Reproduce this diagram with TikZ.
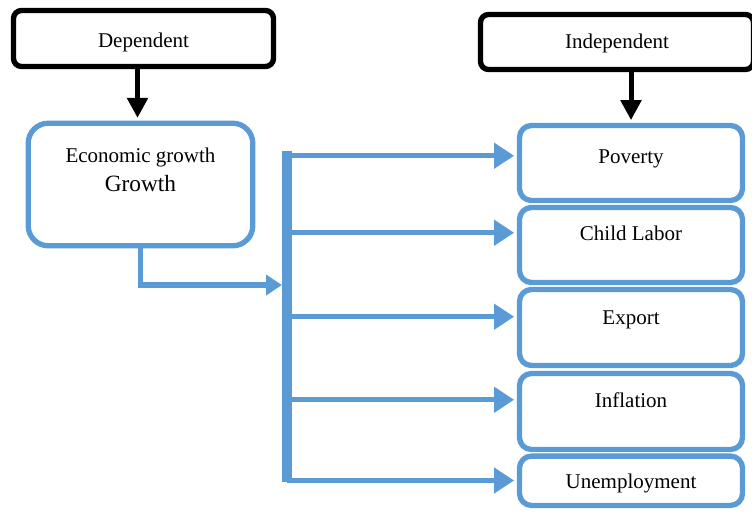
\documentclass[tikz,border=0pt]{standalone}
\usepackage{fontspec}
\setmainfont{Liberation Serif}
\usetikzlibrary{arrows.meta,positioning}

\definecolor{boxblue}{RGB}{91,155,213}
\newcommand{\pxl}{0.75pt}
\newcommand{\boxfont}{\fontsize{15.75}{21.75}\selectfont}

\tikzset{
  blackbox/.style={draw=black, line width=4pt, rounded corners=6pt, font=\boxfont, text depth=0pt},
  bluebox/.style={draw=boxblue, line width=4pt, rounded corners=9pt,
    minimum width=167.25pt, minimum height=56.25pt, text height=11pt, font=\boxfont},
  blackarrow/.style={line width=3.75pt, -{Triangle[width=15pt,length=15pt]}, shorten >=2pt},
  bluearrow/.style={draw=boxblue, line width=4pt, -{Triangle[width=18.5pt,length=15pt]}, shorten >=2pt},
}

\begin{document}
\begin{tikzpicture}[x=0.75pt,y=-0.75pt]
    \useasboundingbox (0,0) rectangle (752,511);

    % top labels
    \node[blackbox, text height=13.3pt, minimum width=195pt, minimum height=42pt] (dep) at (143.5,38.5) {Dependent};
    \node[blackbox, text height=10.3pt, minimum width=204.75pt, minimum height=41.25pt] (ind) at (617,42) {Independent};

    % left box
    \node[draw=boxblue, line width=4pt, rounded corners=15pt,
      minimum width=168.4pt, minimum height=91.9pt] (econ) at (140.5,184.5) {};
    \node[font=\boxfont, align=center, inner sep=0pt, below=20.25pt of econ.north] (econtxt)
      {Economic growth\\{\fontsize{17.5}{21.75}\selectfont Growth}};

    % right boxes
    \node[bluebox, text depth=9.8pt] (pov) at (631,163) {Poverty};
    \node[bluebox, text depth=17.3pt] (child) at (631,245) {Child Labor};
    \node[bluebox, text depth=15.1pt, minimum height=57pt] (export) at (631,327.5) {Export};
    \node[bluebox, text depth=16.5pt, minimum height=57pt] (infl) at (631,411.5) {Inflation};
    \node[bluebox, text height=11.7pt, text depth=0pt, minimum height=37pt] (unemp) at (631,480.75) {Unemployment};

    \draw[blackarrow] ([xshift=-4.5pt]dep.south) -- ([xshift=-4.5pt]dep.south |- econ.north);
    \draw[blackarrow] (ind.south -| pov.north) -- (pov.north);

    % bus
    \coordinate (bustop) at (287,151);
    \coordinate (busbot) at (287,482);
    \coordinate (busin) at (282,285);
    \draw[boxblue, line width=8pt] (bustop) -- (busbot);
    \draw[bluearrow, -{Triangle[width=15pt,length=12pt]}, shorten >=0pt] (econ.south) |- (busin);
    \foreach \b in {pov,child,export,infl,unemp}
      \draw[bluearrow] ([yshift=3.75pt]bustop |- \b.mid west) -- ([yshift=3.75pt]\b.mid west);
\end{tikzpicture}
\end{document}
